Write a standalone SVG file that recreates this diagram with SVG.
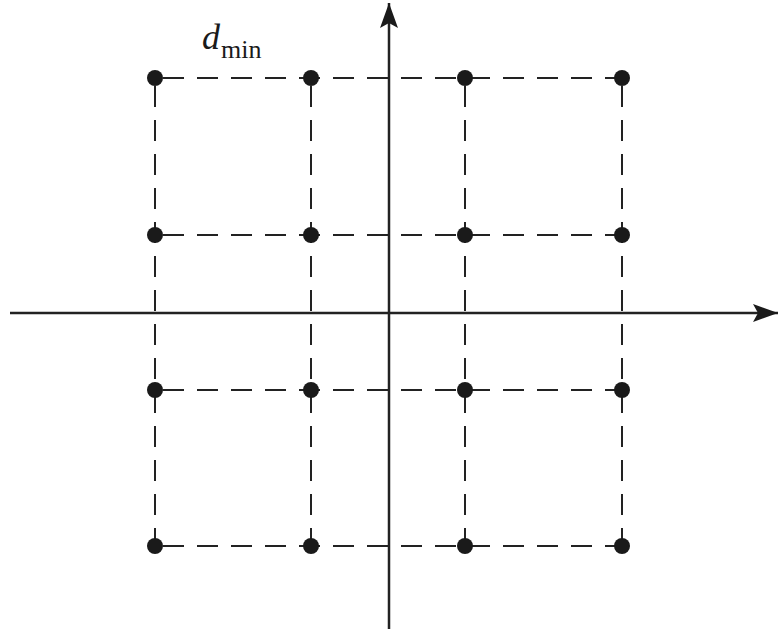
<svg xmlns="http://www.w3.org/2000/svg" width="779" height="630" viewBox="0 0 779 630">
<style>
.grid{stroke:#222;stroke-width:2;stroke-dasharray:21 13;fill:none}
.axis{stroke:#222;stroke-width:2.5;fill:none}
.dot{fill:#1a1a1a}
.lbl{font-family:"Liberation Serif",serif;fill:#1a1a1a}
</style>
<defs>
<marker id="ah" markerWidth="28" markerHeight="20" refX="25" refY="9" orient="auto" markerUnits="userSpaceOnUse">
<path d="M0,0 L25,9 L0,18 L5,9 Z" fill="#1a1a1a"/>
</marker>
</defs>
<rect width="779" height="630" fill="#fff"/>
<g id="connectors">
<path class="grid" d="M163,78 H622 M163,235 H622 M163,390 H622 M163,546 H622"/>
<path class="grid" d="M155,86 V546 M311,86 V546 M465,86 V546 M622,86 V546"/>
<line class="axis" x1="10" y1="313" x2="778" y2="313" marker-end="url(#ah)"/>
<line class="axis" x1="389" y1="629" x2="389" y2="3" marker-end="url(#ah)"/>
</g>
<g id="points">
<circle class="dot" cx="155" cy="78" r="8"/><circle class="dot" cx="311" cy="78" r="8"/><circle class="dot" cx="465" cy="78" r="8"/><circle class="dot" cx="622" cy="78" r="8"/>
<circle class="dot" cx="155" cy="235" r="8"/><circle class="dot" cx="311" cy="235" r="8"/><circle class="dot" cx="465" cy="235" r="8"/><circle class="dot" cx="622" cy="235" r="8"/>
<circle class="dot" cx="155" cy="390" r="8"/><circle class="dot" cx="311" cy="390" r="8"/><circle class="dot" cx="465" cy="390" r="8"/><circle class="dot" cx="622" cy="390" r="8"/>
<circle class="dot" cx="155" cy="546" r="8"/><circle class="dot" cx="311" cy="546" r="8"/><circle class="dot" cx="465" cy="546" r="8"/><circle class="dot" cx="622" cy="546" r="8"/>
</g>
<g id="label">
<text class="lbl" x="202" y="49" font-size="36" font-style="italic">d</text>
<text class="lbl" x="221" y="58" font-size="26">min</text>
</g>
</svg>
